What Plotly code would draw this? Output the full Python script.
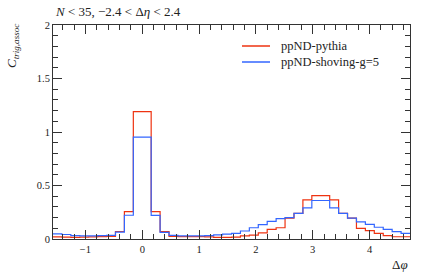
import numpy as np
import plotly.graph_objects as go

# Bin edges: 40 bins over [-pi/2, 3pi/2]
n_bins = 40
edges = [-np.pi / 2 + k * np.pi / 20 for k in range(n_bins + 1)]

pythia = [0.020, 0.018, 0.015, 0.017, 0.020, 0.022, 0.025, 0.070, 0.255, 1.190,
          1.190, 0.255, 0.068, 0.025, 0.022, 0.022, 0.022, 0.020, 0.016, 0.016,
          0.018, 0.030, 0.037, 0.058, 0.090, 0.105, 0.195, 0.240, 0.365, 0.405,
          0.405, 0.365, 0.240, 0.195, 0.100, 0.078, 0.053, 0.031, 0.021, 0.021]

shoving = [0.048, 0.042, 0.032, 0.030, 0.030, 0.032, 0.033, 0.064, 0.222, 0.953,
           0.953, 0.220, 0.062, 0.034, 0.030, 0.030, 0.030, 0.032, 0.038, 0.045,
           0.053, 0.075, 0.105, 0.135, 0.165, 0.190, 0.200, 0.240, 0.290, 0.360,
           0.360, 0.290, 0.240, 0.195, 0.160, 0.137, 0.110, 0.090, 0.068, 0.053]

series_names = ["ppND-pythia", "ppND-shoving-g=5"]
series_colors = ["#ee3311", "#3366ff"]

x_ticks = [-1, 0, 1, 2, 3, 4]
y_ticks = [0, 0.5, 1, 1.5, 2]
y_ticklabels = ["0", "0.5", "1", "1.5", "2"]

serif = "Liberation Serif, DejaVu Serif, serif"
txt_col = "#222222"

W, H = 424, 275
ML, MR, MT, MB = 53, 14, 25, 36
PW = W - ML - MR
PH = H - MT - MB

fig = go.Figure()
for name, vals, col in zip(series_names, [pythia, shoving], series_colors):
    fig.add_trace(go.Scatter(
        x=edges, y=list(vals) + [vals[-1]], mode="lines", name=name,
        line=dict(color=col, width=1.2, shape="hv"), showlegend=False,
        hoverinfo="skip",
    ))

axis_common = dict(
    showline=True, linecolor="#333333", linewidth=1, mirror="ticks",
    ticks="inside", tickcolor="#333333", tickwidth=1, ticklen=9,
    showgrid=False, zeroline=False,
    tickfont=dict(family=serif, size=10.5, color=txt_col),
)

fig.update_xaxes(
    range=[-np.pi / 2, 3 * np.pi / 2], tickvals=x_ticks,
    ticktext=["\u22121" if v < 0 else str(v) for v in x_ticks],
    minor=dict(ticks="inside", dtick=0.2, ticklen=5, tickcolor="#333333", tick0=0, showgrid=False),
    **axis_common,
)
fig.update_yaxes(
    range=[0, 2], tickvals=y_ticks, ticktext=y_ticklabels,
    minor=dict(ticks="inside", dtick=0.1, ticklen=5, tickcolor="#333333", tick0=0, showgrid=False),
    **axis_common,
)

# Manual legend (line samples + labels), positioned in paper coordinates
shapes = []
annotations = []
leg_x0, leg_x1, leg_tx = 242, 270, 279
leg_ys = [46, 62]
for name, col, ly in zip(series_names, series_colors, leg_ys):
    py = 1 - (ly - MT) / PH
    shapes.append(dict(type="line", xref="paper", yref="paper",
                       x0=(leg_x0 - ML) / PW, x1=(leg_x1 - ML) / PW, y0=py, y1=py,
                       line=dict(color=col, width=1.5)))
    annotations.append(dict(text=name, xref="paper", yref="paper",
                            x=(leg_tx - ML) / PW, y=py, xanchor="left", yanchor="middle",
                            showarrow=False, font=dict(family=serif, size=12.5, color=txt_col)))

annotations += [
    dict(text="<i>N</i> < 35, \u22122.4 < \u0394<i>\u03b7</i> < 2.4",
         xref="paper", yref="paper", x=0.0, y=1.0, xanchor="left", yanchor="bottom",
         yshift=4, showarrow=False,
         font=dict(family=serif, size=13, color=txt_col)),
    dict(text="<i>C<sub>trig,assoc</sub></i>",
         xref="paper", yref="paper", x=0.0, y=1.0, xanchor="center", yanchor="top",
         xshift=-41, yshift=3, textangle=-90, showarrow=False,
         font=dict(family=serif, size=13, color=txt_col)),
    dict(text="\u0394<i>\u03c6</i>",
         xref="paper", yref="paper", x=1.0, y=0.0, xanchor="right", yanchor="top",
         yshift=-16, showarrow=False,
         font=dict(family=serif, size=13, color=txt_col)),
]

fig.update_layout(
    width=W, height=H,
    margin=dict(l=ML, r=MR, t=MT, b=MB),
    plot_bgcolor="white", paper_bgcolor="white",
    showlegend=False,
    hovermode=False,
    shapes=shapes,
    annotations=annotations,
)

fig.write_html("out.html",
               config={"displayModeBar": False, "staticPlot": True},
               post_script="document.body.style.margin='0';document.body.style.overflow='hidden';")
